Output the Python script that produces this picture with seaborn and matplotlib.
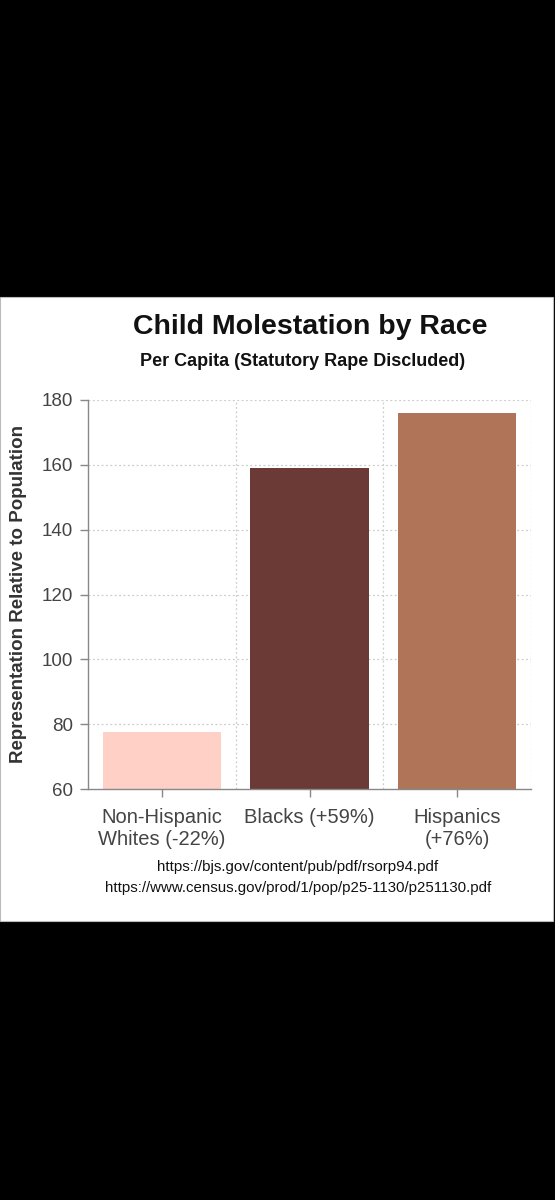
import pandas as pd
import numpy as np
import matplotlib.pyplot as plt
import matplotlib.patches as mpatches
import seaborn as sns

groups = ['Non-Hispanic\nWhites (-22%)', 'Blacks (+59%)', 'Hispanics\n(+76%)']
values = [77.5, 159, 176]
colors = ['#FFD0C5', '#6B3A37', '#B07559']
yticks = [60, 80, 100, 120, 140, 160, 180]
sources = ['https://bjs.gov/content/pub/pdf/rsorp94.pdf',
           'https://www.census.gov/prod/1/pop/p25-1130/p251130.pdf']

sns.set_style('white')
plt.rcParams['font.family'] = ['Liberation Sans', 'DejaVu Sans']

W, H = 555, 1200
fig = plt.figure(figsize=(W / 100, H / 100), dpi=100)
fig.patch.set_facecolor('black')

# white card in the middle of the screenshot
card = mpatches.Rectangle((0, 1 - 921 / H), 553 / W, (921 - 297) / H,
                          transform=fig.transFigure, facecolor='white',
                          edgecolor='#bbbbbb', lw=0.8, zorder=-10)
fig.patches.append(card)

ax = fig.add_axes([88 / W, 1 - 789 / H, (531 - 88) / W, (789 - 400) / H])
df = pd.DataFrame({'group': groups, 'value': values})
sns.barplot(data=df, x='group', y='value', hue='group', palette=colors,
            saturation=1, legend=False, width=0.8, ax=ax, zorder=2)
for p in ax.patches:
    p.set_edgecolor('none')

ax.set_facecolor('white')
ax.set_ylim(60, 180)
ax.set_xlim(-0.5, 2.5)
ax.set_yticks(yticks)
for y in yticks[1:]:
    ax.axhline(y, color='#cccccc', ls=(0, (1.5, 2)), lw=0.9, zorder=1)
for x in [0.5, 1.5, 2.5]:
    ax.axvline(x, color='#cccccc', ls=(0, (1.5, 2)), lw=0.9, zorder=1)

sns.despine(ax=ax)
for s in ['left', 'bottom']:
    ax.spines[s].set_color('#888888')
    ax.spines[s].set_linewidth(1.0)
ax.tick_params(axis='both', direction='out', length=6, width=1, color='#888888',
               labelcolor='#444444', left=True, bottom=True)
ax.tick_params(axis='y', labelsize=13.5, pad=5)
ax.tick_params(axis='x', labelsize=14.5, pad=8)
ax.set_xlabel('')
ax.set_ylabel('Representation Relative to Population', fontsize=13.5,
              fontweight='bold', color='#333333', labelpad=10)

fig.text(310 / W, 1 - 327 / H, 'Child Molestation by Race', ha='center',
         va='center', fontsize=20.5, fontweight='bold', color='#111111')
fig.text(303 / W, 1 - 361 / H, 'Per Capita (Statutory Rape Discluded)',
         ha='center', va='center', fontsize=13, fontweight='bold', color='#111111')
fig.text(298 / W, 1 - 867 / H, sources[0], ha='center', va='center',
         fontsize=10.8, color='#111111')
fig.text(298 / W, 1 - 888 / H, sources[1], ha='center', va='center',
         fontsize=10.8, color='#111111')

fig.savefig('out.png', dpi=100, facecolor=fig.get_facecolor())
